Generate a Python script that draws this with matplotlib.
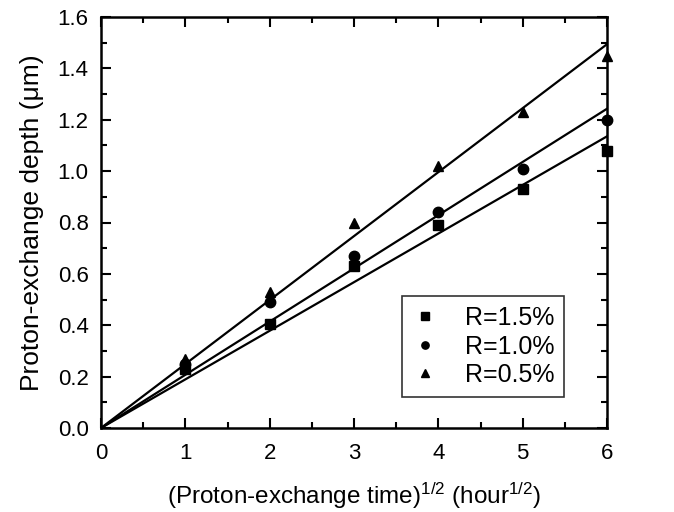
import numpy as np
import matplotlib
matplotlib.use("Agg")
import matplotlib.pyplot as plt
from matplotlib.ticker import MultipleLocator, FormatStrFormatter

plt.rcParams['font.family'] = ['Liberation Sans', 'DejaVu Sans']
plt.rcParams['mathtext.fontset'] = 'custom'
plt.rcParams['mathtext.rm'] = 'Liberation Sans'
plt.rcParams['mathtext.it'] = 'Liberation Sans'

x = [1, 2, 3, 4, 5, 6]
r15 = [0.23, 0.405, 0.63, 0.79, 0.93, 1.08]
r10 = [0.25, 0.49, 0.67, 0.84, 1.01, 1.20]
r05 = [0.27, 0.53, 0.80, 1.02, 1.23, 1.45]
labels = ['R=1.5%', 'R=1.0%', 'R=0.5%']
markers = ['s', 'o', '^']

fig = plt.figure(figsize=(6.74, 5.12), dpi=100)
ax = fig.add_axes([101/674, 1 - 428/512, 506/674, 411/512])

xa = np.array(x, dtype=float)
xfit = np.array([0.0, 6.0])
handles = []
for ys, m, lab in zip([r15, r10, r05], markers, labels):
    ya = np.array(ys)
    slope = np.sum(xa * ya) / np.sum(xa * xa)
    ax.plot(xfit, slope * xfit, color='black', lw=1.6)
    h, = ax.plot(xa, ya, linestyle='none', marker=m, color='black',
                 markersize=7.5, clip_on=False)
    handles.append(h)

ax.set_xlim(0, 6)
ax.set_ylim(0, 1.6)
ax.xaxis.set_major_locator(MultipleLocator(1))
ax.xaxis.set_minor_locator(MultipleLocator(0.5))
ax.yaxis.set_major_locator(MultipleLocator(0.2))
ax.yaxis.set_minor_locator(MultipleLocator(0.1))
ax.yaxis.set_major_formatter(FormatStrFormatter('%.1f'))
ax.tick_params(which='both', direction='in', top=True, right=True, width=1.5, labelsize=16)
ax.tick_params(which='major', length=7)
ax.tick_params(which='minor', length=4)
ax.tick_params(axis='x', pad=11)
ax.tick_params(axis='y', pad=9)
for s in ax.spines.values():
    s.set_linewidth(1.8)

ax.set_xlabel('(Proton-exchange time)$^{1/2}$ (hour$^{1/2}$)', fontsize=17.5, labelpad=12)
ax.set_ylabel('Proton-exchange depth (\u03bcm)', fontsize=19, labelpad=10)

leg = ax.legend(handles, labels, loc='lower left', bbox_to_anchor=(0.595, 0.075),
                fontsize=18, frameon=True, fancybox=False, edgecolor='black',
                handlelength=1.0, handletextpad=1.1, borderpad=0.4, labelspacing=0.18,
                borderaxespad=0.0, markerscale=0.7)
leg.get_frame().set_linewidth(1.2)

fig.savefig('out.png', dpi=100)
